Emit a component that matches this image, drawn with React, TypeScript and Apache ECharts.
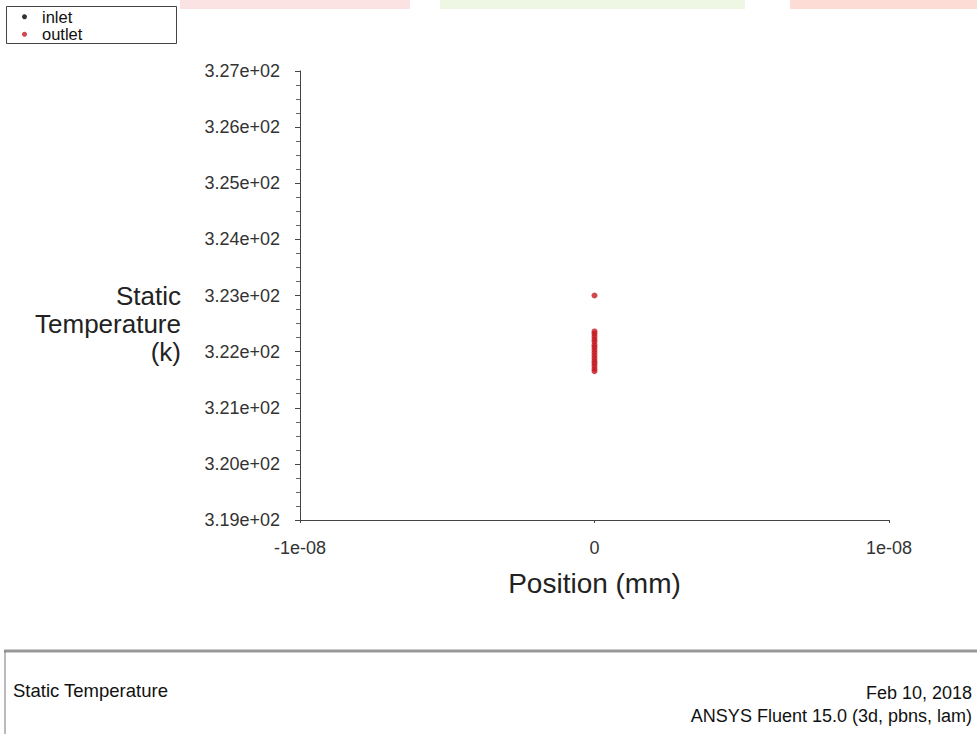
import React, { useEffect, useRef } from "react";
import * as echarts from "echarts";

// ---- data ----
const seriesNames = ["inlet", "outlet"];
const inletPosition: number[] = [];
const inletTemperature: number[] = [];
const outletPosition = [0, 0, 0, 0, 0, 0, 0, 0, 0, 0, 0, 0, 0, 0, 0, 0, 0];
const outletTemperature = [
  323.0, 322.36, 322.32, 322.27, 322.22, 322.18, 322.12, 322.08, 322.03,
  321.98, 321.93, 321.88, 321.83, 321.79, 321.74, 321.69, 321.65,
];
const yMin = 319;
const yMax = 327;
const yStep = 1;
const xMin = -1e-8;
const xMax = 1e-8;
const xStep = 1e-8;
const yTitle = "Static\nTemperature\n(k)";
const xTitle = "Position (mm)";
const footerLeft = "Static Temperature";
const footerDate = "Feb 10, 2018";
const footerVersion = "ANSYS Fluent 15.0 (3d, pbns, lam)";

const FONT = "'Liberation Sans', Arial, sans-serif";

function fmtX(v: number): string {
  if (Math.abs(v) < 1e-20) return "0";
  return v.toExponential(0).replace(/e([+-])(\d)$/, "e$10$2");
}
function fmtY(v: number): string {
  return v.toExponential(2).replace(/e([+-])(\d)$/, "e$10$2");
}

export default function App() {
  const ref = useRef<HTMLDivElement>(null);
  useEffect(() => {
    document.body.style.margin = "0";
    if (!ref.current) return;
    const chart = echarts.init(ref.current, undefined, { renderer: "svg" });
    const zip = (xs: number[], ys: number[]) => xs.map((x, i) => [x, ys[i]]);
    chart.setOption({
      animation: false,
      backgroundColor: "#ffffff",
      textStyle: { fontFamily: FONT },
      grid: { left: 300, top: 71, right: 88, bottom: 214, containLabel: false },
      legend: {
        data: seriesNames,
        orient: "vertical",
        left: 22,
        top: 8,
        padding: 0,
        itemGap: 0,
        itemWidth: 5,
        itemHeight: 5,
        icon: "circle",
        textStyle: {
          fontSize: 16.5,
          lineHeight: 17.5,
          color: "#111",
          fontFamily: FONT,
          padding: [0, 0, 0, 10],
        },
      },
      xAxis: {
        type: "value",
        min: xMin,
        max: xMax,
        interval: xStep,
        name: xTitle,
        nameLocation: "middle",
        nameGap: 49,
        nameTextStyle: { fontSize: 28, color: "#222", fontFamily: FONT },
        axisLine: { show: true, onZero: false, lineStyle: { color: "#444", width: 1 } },
        axisTick: { show: true, inside: false, length: 3, lineStyle: { color: "#444" } },
        splitLine: { show: false },
        axisLabel: { formatter: fmtX, fontSize: 18, color: "#333", margin: 19, fontFamily: FONT },
      },
      yAxis: {
        type: "value",
        min: yMin,
        max: yMax,
        interval: yStep,
        axisLine: { show: true, onZero: false, lineStyle: { color: "#444", width: 1 } },
        axisTick: { show: true, inside: false, length: 5, lineStyle: { color: "#444" } },
        minorTick: { show: true, splitNumber: 4, length: 4, lineStyle: { color: "#666" } },
        splitLine: { show: false },
        axisLabel: { formatter: fmtY, fontSize: 18, color: "#333", margin: 20, fontFamily: FONT },
      },
      series: [
        {
          name: seriesNames[0],
          type: "scatter",
          symbol: "circle",
          symbolSize: 5,
          itemStyle: { color: "#000000" },
          data: zip(inletPosition, inletTemperature),
        },
        {
          name: seriesNames[1],
          type: "scatter",
          symbol: "circle",
          symbolSize: 6,
          itemStyle: { color: "#c41a22" },
          data: zip(outletPosition, outletTemperature),
        },
      ],
      graphic: [
        { type: "rect", shape: { x: 180, y: 0, width: 230, height: 9 }, style: { fill: "#fbe3e3" }, silent: true },
        { type: "rect", shape: { x: 440, y: 0, width: 305, height: 9 }, style: { fill: "#eef6e4" }, silent: true },
        { type: "rect", shape: { x: 790, y: 0, width: 187, height: 9 }, style: { fill: "#fcdcd4" }, silent: true },
        {
          type: "rect",
          shape: { x: 6.5, y: 6.5, width: 170, height: 37 },
          style: { fill: "none", stroke: "#444", lineWidth: 1 },
          silent: true,
        },
        {
          type: "text",
          x: 181,
          y: 282,
          style: {
            text: yTitle,
            font: `26px ${FONT}`,
            lineHeight: 28,
            fill: "#222",
            align: "right",
            verticalAlign: "top",
          },
        },
        { type: "line", shape: { x1: 4, y1: 651, x2: 977, y2: 651 }, style: { stroke: "#999", lineWidth: 3 } },
        { type: "line", shape: { x1: 5, y1: 651, x2: 5, y2: 734 }, style: { stroke: "#777", lineWidth: 1 } },
        {
          type: "text",
          x: 13,
          y: 690,
          style: { text: footerLeft, font: `18.5px ${FONT}`, fill: "#111", verticalAlign: "middle" },
        },
        {
          type: "text",
          x: 972,
          y: 693,
          style: { text: footerDate, font: `18px ${FONT}`, fill: "#111", align: "right", verticalAlign: "middle" },
        },
        {
          type: "text",
          x: 972,
          y: 716,
          style: { text: footerVersion, font: `18px ${FONT}`, fill: "#111", align: "right", verticalAlign: "middle" },
        },
      ],
    });
    return () => chart.dispose();
  }, []);
  return <div ref={ref} style={{ width: 977, height: 734 }} />;
}
